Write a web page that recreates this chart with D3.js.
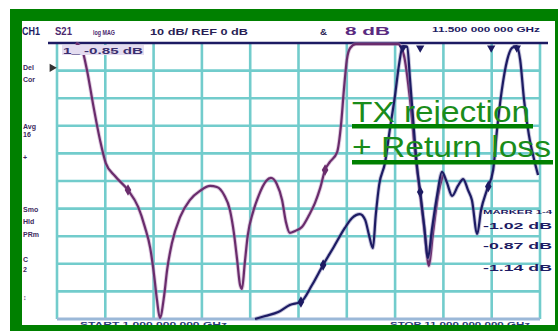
<!DOCTYPE html>
<html>
<head>
<meta charset="utf-8">
<script src="https://cdn.jsdelivr.net/npm/d3@7"></script>
<style>
  html, body { margin: 0; padding: 0; background: #ffffff; }
  svg { display: block; }
  text { font-family: "Liberation Sans", Arial, sans-serif; }
</style>
</head>
<body>
<svg id="chart" width="558" height="331"></svg>
<script>
// Sweep settings: 1 GHz per division, 10 dB per division
const freqTicks = [1, 2, 3, 4, 5, 6, 7, 8, 9, 10, 11];
const dbTicks = [0, -10, -20, -30, -40, -50, -60, -70, -80, -90, -100];

// Stopband / passband trace (GHz, dB)
const rejFreq = [1.39, 1.52, 1.62, 1.75, 1.89, 2.01, 2.20, 2.47, 2.68, 2.82, 2.93, 3.01, 3.07, 3.13,
  3.22, 3.28, 3.38, 3.55, 3.75, 3.96, 4.17, 4.31, 4.46, 4.58, 4.66, 4.73, 4.79, 4.83, 4.89, 4.95,
  5.06, 5.18, 5.33, 5.43, 5.55, 5.66, 5.74, 5.82, 5.93, 6.07, 6.22, 6.34, 6.45, 6.55, 6.65, 6.80,
  6.88, 6.94, 7.00, 7.07, 7.19, 8.06, 8.18, 8.31, 8.41, 8.52, 8.62, 8.70, 8.78, 8.89, 8.99];
const rejDb = [0, -2.5, -9.8, -22.5, -35.1, -43.5, -48.2, -53.3, -59.4, -66.7, -74.3, -84.1, -93.1, -99.6,
  -91.3, -82.2, -72.5, -63.0, -56.9, -53.6, -51.8, -52.2, -55.1, -60.5, -68.5, -78.6, -87.7, -89.1, -79.3, -69.6,
  -61.2, -55.1, -50.0, -48.9, -51.1, -56.9, -64.9, -68.8, -68.1, -66.7, -62.3, -58.0, -52.5, -46.0, -43.1, -39.5,
  -29.7, -17.0, -6.2, -1.8, -0.4, -0.4, -4.3, -20.7, -38.8, -55.1, -69.6, -80.8, -69.6, -55.1, -47.8];

// Return loss trace (GHz, dB)
const rlFreq = [5.10, 5.31, 5.58, 5.82, 6.05, 6.28, 6.51, 6.73, 6.96, 7.11, 7.27, 7.38, 7.46, 7.54,
  7.60, 7.67, 7.79, 7.89, 8.00, 8.08, 8.16, 8.25, 8.31, 8.39, 8.45, 8.52, 8.60, 8.68, 8.76, 8.87,
  8.97, 9.07, 9.18, 9.30, 9.41, 9.51, 9.59, 9.70, 9.78, 9.90, 10.03, 10.11, 10.21, 10.32, 10.42,
  10.52, 10.59, 10.67, 10.77, 10.88, 10.96];
const rlDb = [-100, -98.9, -97.5, -94.9, -93.8, -87.7, -80.4, -73.9, -67.0, -63.4, -62.0, -64.1, -69.6, -74.3,
  -62.3, -51.4, -43.5, -31.5, -18.8, -8.0, -1.1, -1.4, -13.4, -31.5, -44.2, -54.0, -65.9, -77.9, -67.8, -55.1,
  -46.7, -50.4, -55.4, -51.8, -49.3, -53.3, -56.9, -69.2, -60.5, -53.3, -46.0, -31.5, -17.0, -6.2, -1.8,
  -1.1, -6.2, -20.7, -33.3, -42.4, -47.8];

// Marker positions on each trace (GHz, dB)
const rejMarkFreq = [2.47, 6.55];
const rejMarkDb = [-53.3, -46.0];
const rlMarkFreq = [6.05, 6.51, 8.52, 9.93];
const rlMarkDb = [-93.8, -80.4, -54.0, -52.0];
const topMarkFreq = [8.16, 8.52, 9.99, 10.52];

// Annotation text
const headerLabels = ["CH1", "S21", "log MAG", "10 dB/ REF 0 dB", "&", "8 dB", "11.500 000 000 GHz"];
const sideLabels = ["Del", "Cor", "Avg", "16", "+", "Smo", "Hld", "PRm", "C", "2", "\u2195"];
const markerReadout = ["1_ -0.85 dB"];
const markerTable = ["MARKER 1-4", "-1.02 dB", "-0.87 dB", "-1.14 dB"];
const sweepLabels = ["START 1.000 000 000 GHz", "STOP 11.000 000 000 GHz"];
const titleLines = ["TX rejection", "+ Return loss"];

const svg = d3.select("#chart");

const x = d3.scaleLinear().domain([1, 11]).range([57, 540]);
const y = d3.scaleLinear().domain([0, -100]).range([43, 319]);

const navy = "#1d1b63";
const purple = "#6a2c6c";
const teal = "#72cccc";
const green = "#008000";

// Graticule
const grid = svg.append("g");
grid.selectAll("line.v").data(freqTicks).join("line")
  .attr("x1", d => x(d)).attr("x2", d => x(d))
  .attr("y1", y(0)).attr("y2", y(-100))
  .attr("stroke", teal).attr("stroke-width", 2.6);
grid.selectAll("line.h").data(dbTicks.slice(1, -1)).join("line")
  .attr("x1", x(1)).attr("x2", x(11))
  .attr("y1", d => y(d)).attr("y2", d => y(d))
  .attr("stroke", teal).attr("stroke-width", 2.6);
// bottom edge of the graticule
grid.append("line")
  .attr("x1", x(1)).attr("x2", x(11))
  .attr("y1", y(-100)).attr("y2", y(-100))
  .attr("stroke", "#9bb8d8").attr("stroke-width", 3);
// reference line at the top
grid.append("line")
  .attr("x1", 48).attr("x2", 548)
  .attr("y1", y(0)).attr("y2", y(0))
  .attr("stroke", navy).attr("stroke-width", 2.6);

// Traces
const line = d3.line().x(d => x(d[0])).y(d => y(d[1])).curve(d3.curveMonotoneX);
const rejData = d3.zip(rejFreq, rejDb);
const rlData = d3.zip(rlFreq, rlDb);

svg.append("path").datum(rejData).attr("d", line)
  .attr("fill", "none").attr("stroke", "#b58ab8").attr("stroke-width", 4).attr("opacity", 0.45);
svg.append("path").datum(rejData).attr("d", line)
  .attr("fill", "none").attr("stroke", purple).attr("stroke-width", 2.2);
svg.append("path").datum(rlData).attr("d", line)
  .attr("fill", "none").attr("stroke", "#7c7ab0").attr("stroke-width", 4).attr("opacity", 0.45);
svg.append("path").datum(rlData).attr("d", line)
  .attr("fill", "none").attr("stroke", navy).attr("stroke-width", 2.2);

// Trace markers
const diamond = d3.symbol().type(d3.symbolDiamond).size(38);
svg.selectAll("path.mr").data(d3.zip(rejMarkFreq, rejMarkDb)).join("path")
  .attr("d", diamond).attr("transform", d => `translate(${x(d[0])},${y(d[1])})`)
  .attr("fill", purple);
svg.selectAll("path.ml").data(d3.zip(rlMarkFreq, rlMarkDb)).join("path")
  .attr("d", diamond).attr("transform", d => `translate(${x(d[0])},${y(d[1])})`)
  .attr("fill", navy);
const tri = d3.symbol().type(d3.symbolTriangle).size(30);
svg.selectAll("path.mt").data(topMarkFreq).join("path")
  .attr("d", tri).attr("transform", d => `translate(${x(d)},${y(0) + 5}) rotate(180)`)
  .attr("fill", navy);
// reference position marker at the left edge
svg.append("path").attr("d", tri)
  .attr("transform", `translate(${x(1) - 5},${y(-9)}) rotate(90)`).attr("fill", "#333");

// Header annotations
const hdrX = [22, 55, 93, 150, 320, 345, 432];
const hdrW = [18, 17, 22, 98, 7, 45, 108];
const hdrCol = [navy, "#4d2a6e", "#4d2a6e", "#2a1f55", "#2a1f55", "#5a2a80", navy];
const hdrSize = [10, 10, 8, 9, 9, 11, 7];
svg.selectAll("text.hdr").data(headerLabels).join("text")
  .attr("x", (d, i) => hdrX[i]).attr("y", (d, i) => i === 6 ? 32 : 35)
  .attr("font-size", (d, i) => hdrSize[i]).attr("font-weight", "bold")
  .attr("fill", (d, i) => hdrCol[i])
  .attr("textLength", (d, i) => hdrW[i]).attr("lengthAdjust", "spacingAndGlyphs")
  .text(d => d);

// Marker readout under the reference line
svg.append("rect").attr("x", 62).attr("y", 45).attr("width", 82).attr("height", 10)
  .attr("fill", "#e4dcf0");
svg.append("text").attr("x", 63).attr("y", 54).attr("font-size", 9).attr("font-weight", "bold")
  .attr("fill", "#3b2f6e").attr("textLength", 80).attr("lengthAdjust", "spacingAndGlyphs")
  .text(markerReadout[0]);

// Side annotations
const sideY = [70, 82, 129, 137, 160, 212, 224, 237, 262, 272, 300];
svg.selectAll("text.side").data(sideLabels).join("text")
  .attr("x", 23).attr("y", (d, i) => sideY[i])
  .attr("font-size", 7).attr("font-weight", "bold").attr("fill", "#3d2a5e")
  .text(d => d);

// Marker table at the lower right
const tblY = [214, 229, 249, 271];
svg.selectAll("text.tbl").data(markerTable).join("text")
  .attr("x", 483).attr("y", (d, i) => tblY[i])
  .attr("font-size", (d, i) => i === 0 ? 6 : 9).attr("font-weight", "bold").attr("fill", navy)
  .attr("textLength", (d, i) => i === 0 ? 69 : 69).attr("lengthAdjust", "spacingAndGlyphs")
  .text(d => d);

// Sweep range
svg.selectAll("text.sweep").data(sweepLabels).join("text")
  .attr("x", (d, i) => i === 0 ? 80 : 390).attr("y", 327)
  .attr("font-size", 8).attr("font-weight", "bold").attr("fill", "#2b3a7a")
  .attr("textLength", (d, i) => i === 0 ? 147 : 140).attr("lengthAdjust", "spacingAndGlyphs")
  .text(d => d);

// Frame
svg.append("path")
  .attr("d", `M10,9H558V331H10Z M22,21V325H555V21Z`)
  .attr("fill", green).attr("fill-rule", "evenodd");

// Title with underlines
const tX = 352;
const tBase = [122, 157];
const tLen = [178, 199];
svg.selectAll("text.title").data(titleLines).join("text")
  .attr("x", tX).attr("y", (d, i) => tBase[i])
  .attr("font-size", 30).attr("fill", "#1a8c1a")
  .attr("textLength", (d, i) => tLen[i]).attr("lengthAdjust", "spacingAndGlyphs")
  .text(d => d);
svg.selectAll("rect.ul").data([[352, 124, 181], [352, 160, 201]]).join("rect")
  .attr("x", d => d[0]).attr("y", d => d[1]).attr("width", d => d[2]).attr("height", 4.5)
  .attr("fill", green);
</script>
</body>
</html>
